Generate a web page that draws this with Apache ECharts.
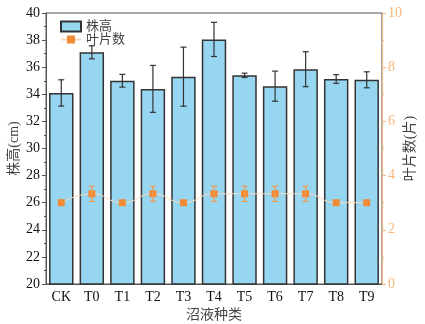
<!DOCTYPE html>
<html>
<head>
<meta charset="utf-8">
<script src="https://cdn.jsdelivr.net/npm/echarts@6/dist/echarts.min.js"></script>
<style>
  html,body{margin:0;padding:0;background:#fff;}
  #chart{width:425px;height:324px;}
</style>
</head>
<body>
<div id="chart"></div>
<script>
// 处理
var categories = ['CK','T0','T1','T2','T3','T4','T5','T6','T7','T8','T9'];
// 株高 (cm) 及误差
var heightVals = [34.1, 37.1, 35.0, 34.4, 35.3, 38.05, 35.4, 34.6, 35.85, 35.13, 35.07];
var heightErr  = [0.97, 0.48, 0.47, 1.73, 2.18, 1.26, 0.16, 1.11, 1.29, 0.32, 0.59];
// 叶片数 (片) 及误差
var leafVals = [3, 3.33, 3, 3.33, 3, 3.33, 3.33, 3.33, 3.33, 3, 3];
var leafErr  = [0, 0.28, 0, 0.28, 0, 0.28, 0.28, 0.28, 0.28, 0, 0];

var serif = '"Liberation Serif","Times New Roman","Noto Sans CJK SC",serif';
var cjk = '"Liberation Serif","Noto Sans CJK SC",serif';
var orange = '#f7b57a';

function errBar(vals, errs, color, capW, lw){
  return function(params, api){
    var i = api.value(0);
    var v = vals[i], e = errs[i];
    if(!e) return null;
    var hi = api.coord([i, v + e]);
    var lo = api.coord([i, v - e]);
    var st = {stroke: color, lineWidth: lw};
    return {
      type: 'group',
      children: [
        {type:'line', shape:{x1:hi[0], y1:hi[1], x2:lo[0], y2:lo[1]}, style: st},
        {type:'line', shape:{x1:hi[0]-capW, y1:hi[1], x2:hi[0]+capW, y2:hi[1]}, style: st},
        {type:'line', shape:{x1:lo[0]-capW, y1:lo[1], x2:lo[0]+capW, y2:lo[1]}, style: st}
      ]
    };
  };
}

var chart = echarts.init(document.getElementById('chart'));
chart.setOption({
  animation: false,
  textStyle: {fontFamily: serif},
  grid: {left: 46, right: 43, top: 13, bottom: 40, outerBoundsMode: 'none', show: true, borderColor: '#555', borderWidth: 1},
  legend: {
    left: 55, top: 15, orient: 'vertical', itemGap: 0,
    itemWidth: 20, itemHeight: 10,
    textStyle: {fontFamily: cjk, fontSize: 13, color: '#444'},
    data: [
      {name: '株高', icon: 'rect'},
      {name: '叶片数'}
    ]
  },
  xAxis: {
    type: 'category',
    data: categories,
    name: '沼液种类',
    nameLocation: 'middle',
    nameGap: 24,
    nameMoveOverlap: false,
    nameTextStyle: {fontFamily: cjk, fontSize: 14, color: '#444'},
    axisLine: {lineStyle: {color: '#555'}},
    axisTick: {show: false},
    axisLabel: {color: '#111', fontSize: 14, margin: 6}
  },
  yAxis: [
    {
      type: 'value', min: 20, max: 40, interval: 2,
      name: '株高(cm)', nameLocation: 'middle', nameGap: 25,
      nameMoveOverlap: false,
      nameTextStyle: {fontFamily: cjk, fontSize: 14, color: '#444'},
      axisLine: {show: true, lineStyle: {color: '#555'}},
      axisTick: {show: true, length: 4, lineStyle: {color: '#555'}},
      minorTick: {show: true, splitNumber: 2, length: 2, lineStyle: {color: '#555'}},
      axisLabel: {color: '#111', fontSize: 14, margin: 6},
      splitLine: {show: false}
    },
    {
      type: 'value', min: 0, max: 10, interval: 2,
      name: '叶片数(片)', nameLocation: 'middle', nameGap: 21, nameRotate: 90,
      nameMoveOverlap: false,
      nameTextStyle: {fontFamily: cjk, fontSize: 14, color: '#444'},
      axisLine: {show: true, lineStyle: {color: orange}},
      axisTick: {show: true, length: 4, lineStyle: {color: orange}},
      minorTick: {show: true, splitNumber: 2, length: 2, lineStyle: {color: orange}},
      axisLabel: {color: orange, fontSize: 14, margin: 6},
      splitLine: {show: false}
    }
  ],
  series: [
    {
      name: '株高',
      type: 'bar',
      data: heightVals,
      barWidth: '80%',
      itemStyle: {color: '#96d6f1', borderColor: '#333', borderWidth: 1.5},
      z: 2
    },
    {
      type: 'custom',
      yAxisIndex: 0,
      data: heightVals.map(function(v, i){ return [i, v]; }),
      renderItem: errBar(heightVals, heightErr, '#333', 3, 1.2),
      z: 5,
      silent: true
    },
    {
      name: '叶片数',
      type: 'line',
      yAxisIndex: 1,
      data: leafVals,
      smooth: true,
      symbol: 'rect',
      symbolSize: 7,
      itemStyle: {color: '#f28b35'},
      lineStyle: {color: '#fbd9b8', width: 1},
      z: 6
    },
    {
      type: 'custom',
      yAxisIndex: 1,
      data: leafVals.map(function(v, i){ return [i, v]; }),
      renderItem: errBar(leafVals, leafErr, '#f39a50', 3, 1.2),
      z: 7,
      silent: true
    }
  ]
});
</script>
</body>
</html>
